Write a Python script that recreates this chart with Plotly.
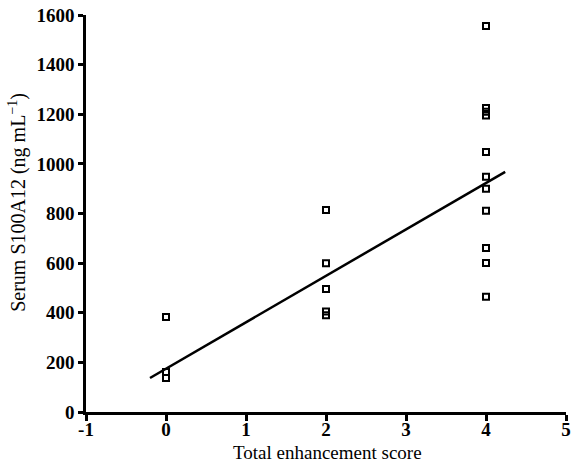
import plotly.graph_objects as go

score_0 = [383, 161, 137]
score_2 = [814, 600, 496, 405, 390]
score_4 = [1556, 1225, 1210, 1195, 1048, 948, 900, 811, 661, 601, 464]

xs = [0] * len(score_0) + [2] * len(score_2) + [4] * len(score_4)
ys = score_0 + score_2 + score_4

fit_x = [-0.2, 4.24]
fit_y = [137, 968]

x_ticks = [-1, 0, 1, 2, 3, 4, 5]
y_ticks = [0, 200, 400, 600, 800, 1000, 1200, 1400, 1600]

fig = go.Figure()
fig.add_trace(go.Scatter(x=fit_x, y=fit_y, mode="lines",
                         line=dict(color="black", width=2.5), showlegend=False))
fig.add_trace(go.Scatter(x=xs, y=ys, mode="markers",
                         marker=dict(symbol="square-open", size=6, color="black",
                                     line=dict(width=2, color="black")),
                         showlegend=False))

font_family = "Liberation Serif"
fig.update_layout(
    width=571, height=464,
    margin=dict(l=86, r=5, t=15, b=52, autoexpand=False),
    plot_bgcolor="white", paper_bgcolor="white",
    font=dict(family=font_family, color="black", size=16),
    xaxis=dict(range=[-1, 5], tickvals=x_ticks, ticktext=[f"<b>{v}</b>" for v in x_ticks],
               showline=True, linecolor="black", linewidth=2.5,
               ticks="outside", ticklen=6, tickwidth=2.5, tickcolor="black",
               showgrid=False, zeroline=False, automargin=False,
               ticklabeloverflow="allow", ticklabelstandoff=-8,
               tickfont=dict(size=19, family=font_family)),
    yaxis=dict(range=[0, 1600], tickvals=y_ticks, ticktext=[f"<b>{v}</b>" for v in y_ticks],
               showline=True, linecolor="black", linewidth=2.5,
               ticks="outside", ticklen=5, tickwidth=2.5, tickcolor="black",
               showgrid=False, zeroline=False, automargin=False,
               ticklabeloverflow="allow",
               tickfont=dict(size=19, family=font_family)),
    annotations=[
        dict(text="Total enhancement score", xref="paper", yref="paper",
             x=0.503, y=-0.103, xanchor="center", yanchor="middle", showarrow=False,
             font=dict(size=19, family=font_family, color="black")),
        dict(text="Serum S100A12 (ng mL<sup>−1</sup>)", xref="paper", yref="paper",
             x=-0.142, y=0.529, xanchor="center", yanchor="middle", showarrow=False,
             textangle=-90, font=dict(size=20, family=font_family, color="black")),
    ],
)

fig.write_html("out.html", config={"displayModeBar": False},
               post_script="document.body.style.margin='0';")
